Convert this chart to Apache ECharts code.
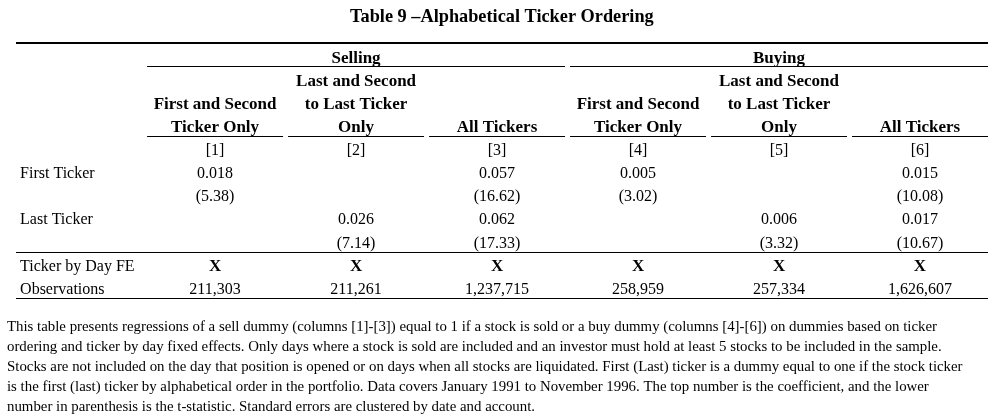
<!DOCTYPE html>
<html><head><meta charset="utf-8">
<script src="https://cdn.jsdelivr.net/npm/echarts@6/dist/echarts.min.js"></script>
<style>html,body{margin:0;padding:0;background:#fff}#c{width:994px;height:416px}</style>
</head><body><div id="c"></div>
<script>
// ---- data ----
const titleText = 'Table 9 \u2013Alphabetical Ticker Ordering';
const groups = ['Selling', 'Buying'];
const headerLine1 = ['', 'Last and Second', '', '', 'Last and Second', ''];
const headerLine2 = ['First and Second', 'to Last Ticker', '', 'First and Second', 'to Last Ticker', ''];
const headerLine3 = ['Ticker Only', 'Only', 'All Tickers', 'Ticker Only', 'Only', 'All Tickers'];
const columnNumbers = ['[1]', '[2]', '[3]', '[4]', '[5]', '[6]'];
const rowLabels = ['First Ticker', '', 'Last Ticker', '', 'Ticker by Day FE', 'Observations'];
const firstTickerCoef = [0.018, null, 0.057, 0.005, null, 0.015];
const firstTickerT = [5.38, null, 16.62, 3.02, null, 10.08];
const lastTickerCoef = [null, 0.026, 0.062, null, 0.006, 0.017];
const lastTickerT = [null, 7.14, 17.33, null, 3.32, 10.67];
const tickerByDayFE = ['X', 'X', 'X', 'X', 'X', 'X'];
const observations = [211303, 211261, 1237715, 258959, 257334, 1626607];
const footnoteLines = [
  'This table presents regressions of a sell dummy (columns [1]-[3]) equal to 1 if a stock is sold or a buy dummy (columns [4]-[6]) on dummies based on ticker',
  'ordering and ticker by day fixed effects. Only days where a stock is sold are included and an investor must hold at least 5 stocks to be included in the sample.',
  'Stocks are not included on the day that position is opened or on days when all stocks are liquidated. First (Last) ticker is a dummy equal to one if the stock ticker',
  'is the first (last) ticker by alphabetical order in the portfolio. Data covers January 1991 to November 1996. The top number is the coefficient, and the lower',
  'number in parenthesis is the t-statistic. Standard errors are clustered by date and account.'
];

// ---- build cells (column index, row index) ----
const SERIF = '"Liberation Serif", "Times New Roman", serif';
const LABEL_X = -0.383;
const cells = [];
function add(x, y, text, bold, align) {
  if (text === '' || text === null || text === undefined) return;
  cells.push({ x: x, y: y, text: String(text), bold: !!bold, align: align || 'center' });
}
groups.forEach((g, i) => add(2 + i * 3, 0, g, true));
headerLine1.forEach((t, i) => add(i + 1, 1, t, true));
headerLine2.forEach((t, i) => add(i + 1, 2, t, true));
headerLine3.forEach((t, i) => add(i + 1, 3, t, true));
columnNumbers.forEach((t, i) => add(i + 1, 4, t, false));
const fmtCoef = v => v === null ? '' : v.toFixed(3);
const fmtT = v => v === null ? '' : '(' + v.toFixed(2) + ')';
const fmtObs = v => v.toLocaleString('en-US');
firstTickerCoef.forEach((v, i) => add(i + 1, 5, fmtCoef(v)));
firstTickerT.forEach((v, i) => add(i + 1, 6, fmtT(v)));
lastTickerCoef.forEach((v, i) => add(i + 1, 7, fmtCoef(v)));
lastTickerT.forEach((v, i) => add(i + 1, 8, fmtT(v)));
tickerByDayFE.forEach((v, i) => add(i + 1, 9, v, true));
observations.forEach((v, i) => add(i + 1, 10, fmtObs(v)));
rowLabels.forEach((t, i) => add(LABEL_X, 5 + i, t, false, 'left'));

// ---- rules: [x1, x2, row, width] ----
const XMIN = -0.412, XMAX = 6.5;
const rules = [];
rules.push([XMIN, XMAX, -0.606, 2.2]);
groups.forEach((g, i) => rules.push([0.5 + i * 3, 3.5 + i * 3, 0.39, 1]));
columnNumbers.forEach((c, i) => rules.push([i + 0.5, i + 1.5, 3.45, 1]));
rules.push([XMIN, XMAX, 8.455, 1]);
rules.push([XMIN, XMAX, 10.446, 1]);

const chart = echarts.init(document.getElementById('c'), null, { renderer: 'canvas' });
chart.setOption({
  backgroundColor: '#fff',
  animation: false,
  title: [
    { text: titleText, left: 350, top: 8, padding: 0,
      textStyle: { fontFamily: SERIF, fontSize: 18.3, fontWeight: 'bold', color: '#000' } },
    { text: footnoteLines.join('\n'), left: 7, top: 317, padding: 0,
      textStyle: { fontFamily: SERIF, fontSize: 14.85, fontWeight: 'normal', color: '#000', lineHeight: 20 } }
  ],
  grid: { left: 16, width: 974.5, top: 39.675, height: 265.65, containLabel: false },
  xAxis: { type: 'value', min: XMIN, max: XMAX, show: false },
  yAxis: { type: 'value', min: -0.75, max: 10.75, inverse: true, show: false },
  series: [
    {
      type: 'custom', clip: false, silent: true,
      data: rules.map(r => [r[0], r[1], r[2], r[3]]),
      renderItem: function (params, api) {
        const r = rules[params.dataIndex];
        const p1 = api.coord([r[0], r[2]]);
        const p2 = api.coord([r[1], r[2]]);
        const inL = r[0] === XMIN ? 0 : 2.5;
        const inR = 2.5;
        const y = r[3] < 1.5 ? Math.round(p1[1] - 0.5) + 0.5 : p1[1];
        return { type: 'line',
          shape: { x1: p1[0] + inL, y1: y, x2: p2[0] - inR, y2: y },
          style: { stroke: '#000', lineWidth: r[3] } };
      }
    },
    {
      type: 'custom', clip: false, silent: true,
      data: cells.map(c => [c.x, c.y]),
      renderItem: function (params, api) {
        const c = cells[params.dataIndex];
        const p = api.coord([c.x, c.y]);
        return { type: 'text', x: p[0], y: p[1] + 1.5,
          style: { text: c.text, fill: '#000', align: c.align, verticalAlign: 'middle',
            font: (c.bold ? 'bold 17px ' : '16px ') + SERIF } };
      }
    }
  ]
});
</script></body></html>
